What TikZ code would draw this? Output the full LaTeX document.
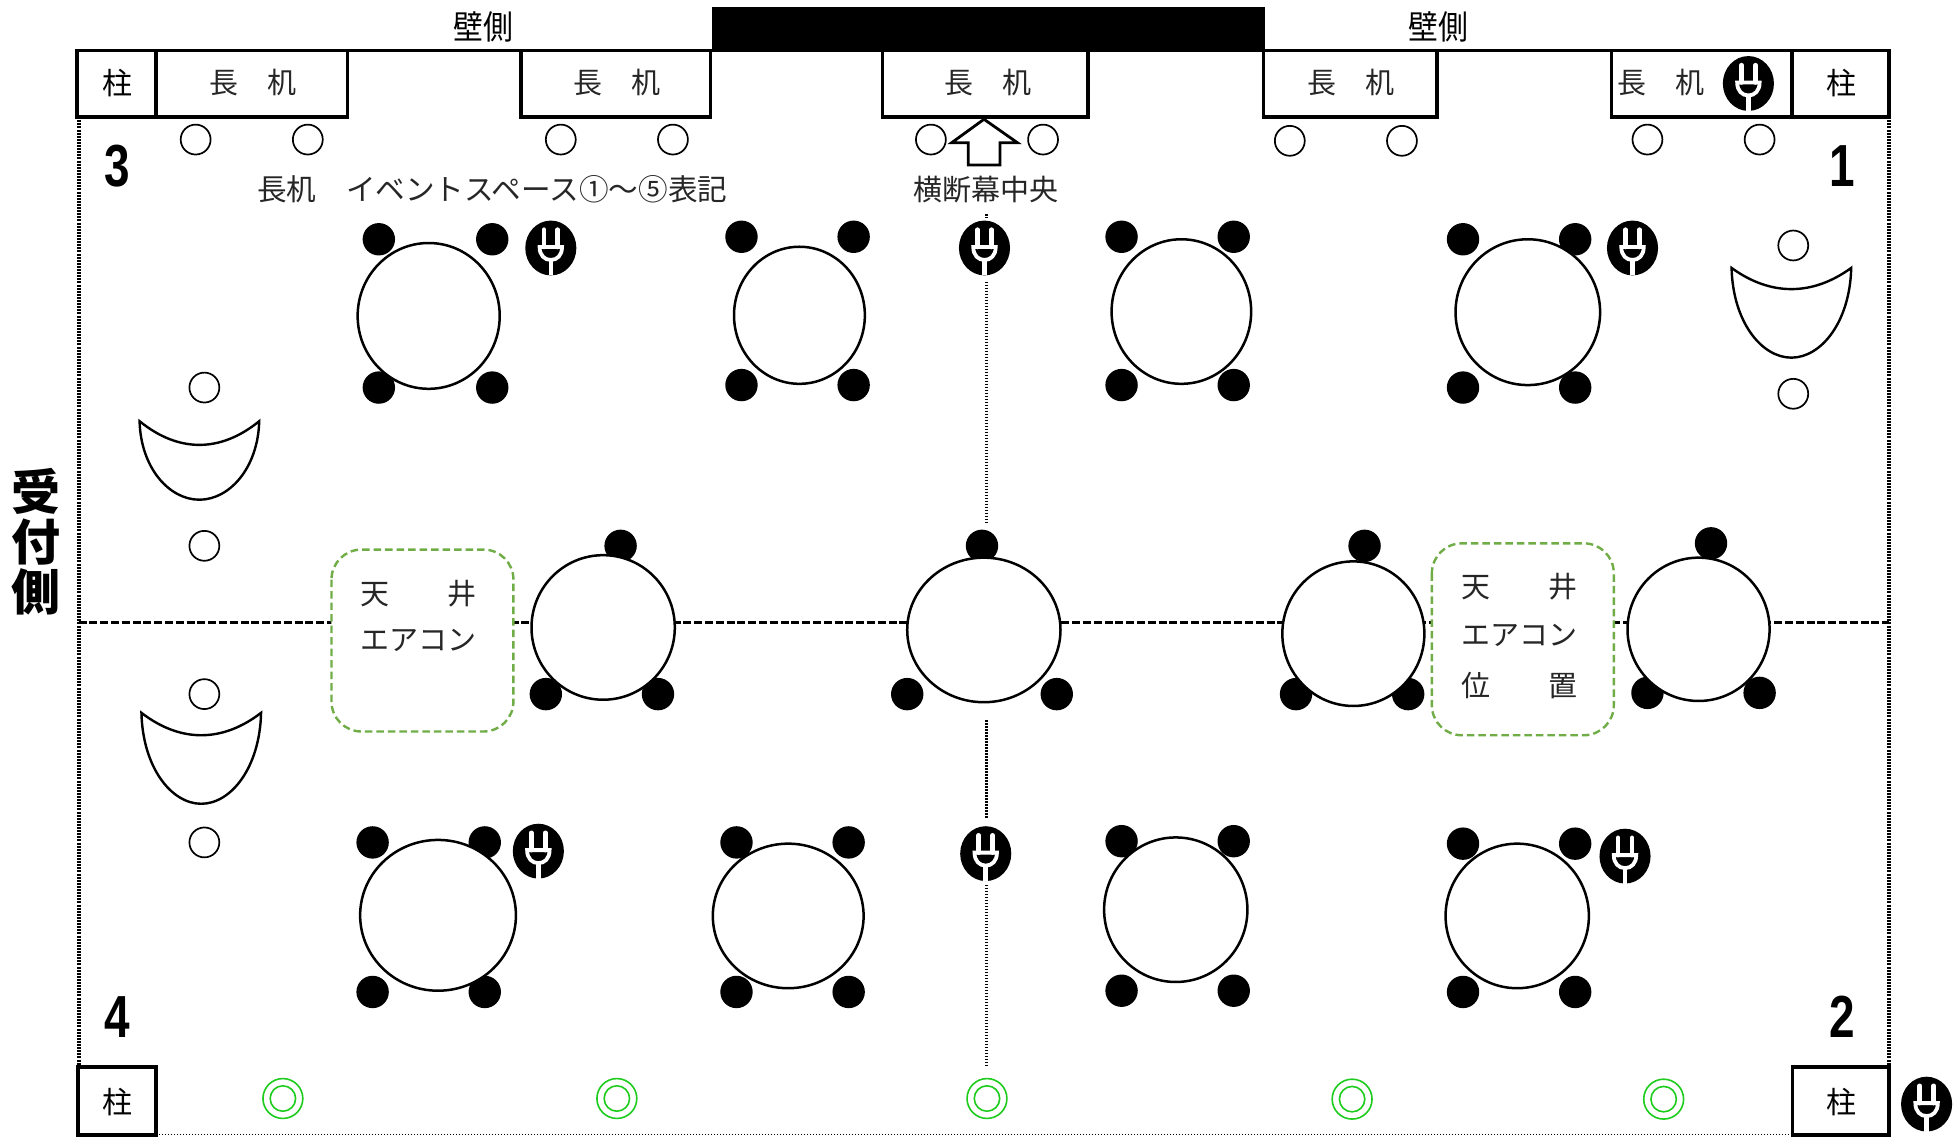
\documentclass[tikz,border=0pt]{standalone}
\usepackage{fontspec}
\usepackage{graphicx}
\setmainfont{Noto Sans CJK JP}
\newfontfamily\numfont{Liberation Sans}
\newcommand{\OpenSeat}[2]{\draw[openseat] (#1,#2) circle[radius=12];}
\newcommand{\RoundTable}[4]{\draw[tabletop] (#1,#2) ellipse[x radius=#3, y radius=#4];}
\newcommand{\SeatDots}[1]{\foreach \sx/\sy in {#1}{\fill (\sx,\sy) circle[radius=13];}}
\newcommand{\CupShape}[5]{%
  \draw[cupline] ({#1-#3},#2) .. controls ({#1-0.35*#3},{#2+1.333*(#4-#2)}) and ({#1+0.35*#3},{#2+1.333*(#4-#2)}) .. ({#1+#3},#2)
    .. controls ({#1+#3-1},{#2+0.6*(#5-#2)}) and ({#1+0.5*#3},#5) .. (#1,#5)
    .. controls ({#1-0.5*#3},#5) and ({#1-#3+1},{#2+0.6*(#5-#2)}) .. cycle;}
\newcommand{\PlugMark}[2]{%
  \begin{scope}[shift={(#1,#2)}]
    \fill (0,0) ellipse[x radius=20.5, y radius=22];
    \draw[plugwhite, line cap=round] (-5.6,-14.7) -- (-5.6,-0.8);
    \draw[plugwhite, line cap=round] (5.6,-14.7) -- (5.6,-0.8);
    \draw[plugwhite, line width=3.8pt] (-9,-0.8) -- (9,-0.8)
      .. controls (9,6) and (5,9.6) .. (0,9.6)
      .. controls (-5,9.6) and (-9,6) .. cycle;
    \draw[plugwhite] (0,9.6) -- (0,22);
  \end{scope}}
\newcommand{\DoubleRing}[2]{%
  \draw[greenring] (#1,#2) circle[radius=16];
  \draw[greenring] (#1,#2) circle[radius=10.2];}
\definecolor{acgreen}{HTML}{70AD47}
\definecolor{ringgreen}{HTML}{1ECC1E}
\tikzset{
  wall/.style={line width=3.6pt, line join=miter},
  openseat/.style={line width=1.7pt, fill=white},
  tabletop/.style={line width=2.5pt, fill=white},
  cupline/.style={line width=2.4pt, fill=white},
  plugwhite/.style={draw=white, line width=4.6pt},
  greenring/.style={draw=ringgreen, line width=1.6pt},
  acbox/.style={draw=acgreen, line width=2.4pt, dash pattern=on 7.5pt off 4pt, fill=white, rounded corners=30pt},
  walldot/.style={line width=4pt, dash pattern=on 2pt off 1.1pt},
  middot/.style={line width=3pt, dash pattern=on 1.6pt off 1.4pt},
  middash/.style={line width=3.8pt, dash pattern=on 8pt off 2.8pt},
  thindot/.style={line width=1pt, dash pattern=on 1.3pt off 1.7pt},
  lab/.style={inner sep=0pt, font=\fontsize{29pt}{35pt}\selectfont, text=black!85},
  pillar/.style={inner sep=0pt, font=\fontsize{30pt}{36pt}\selectfont},
  digit/.style={inner sep=0pt, font=\numfont\bfseries\fontsize{54pt}{60pt}\selectfont},
}
\begin{document}
\begin{tikzpicture}[x=1.24617pt, y=-1.24617pt]
\useasboundingbox (0,0) rectangle (1568,911.6);
\fill[white] (0,0) rectangle (1568,911.6);
% walls and centre lines
\draw[walldot] (63,94) -- (63,856);
\draw[walldot] (1516,94) -- (1516,856);
\draw[thindot] (125,910.6) -- (1438,910.6);
\draw[middash] (63,499.5) -- (1516,499.5);
\draw[middot] (791.5,172) -- (791.5,175);
\draw[middot] (791.5,226) -- (791.5,420);
\draw[middot] (791.5,578) -- (791.5,657);
\draw[middot] (791.5,710) -- (791.5,855);
% top wall
\fill (571,6) rectangle (1015,41);
\draw[wall] (62,40.5) -- (1516,40.5);
\draw[wall] (62,40.5) rectangle (125,94);
\draw[wall] (125,40.5) rectangle (279,94);
\draw[wall] (418,40.5) rectangle (570,94);
\draw[wall] (708,40.5) rectangle (873,94);
\draw[wall] (1014,40.5) rectangle (1153,94);
\draw[wall] (1293,40.5) rectangle (1438,94);
\draw[wall] (1438,40.5) rectangle (1516,94);
\draw[wall] (62.5,856) rectangle (125,911);
\draw[wall] (1438.5,856) rectangle (1516,911);
% open seats
\foreach \ox/\oy in {157/112,247/112,450/112,540/112,747/112,837/112,1035/113,1125/113,1322/112,1412/112,1439/197,1439/316,164/311,164/438,164/557,164/676}{\OpenSeat{\ox}{\oy}}
% cups
\CupShape{160}{338}{48}{357}{401}
\CupShape{161.5}{572}{48}{590}{645}
\CupShape{1437.5}{215}{48}{232}{287}
% seats then tables
\SeatDots{304/192,395/192,304/311,395/311}\RoundTable{344}{253.5}{57}{58.5}
\SeatDots{595/190,685/190,595/309,685/309}\RoundTable{641.5}{253}{52.5}{55}
\SeatDots{900/190,990/190,900/309,990/309}\RoundTable{948}{250}{56}{58}
\SeatDots{1174/192,1264/192,1174/311,1264/311}\RoundTable{1226}{250.5}{58}{58.5}
\SeatDots{498/438,438/557,528/557}\RoundTable{484}{503.5}{57.5}{58}
\SeatDots{788/438,728/557,848/557}\RoundTable{789.5}{505.5}{61.5}{58}
\SeatDots{1095/438,1040/557,1130/557}\RoundTable{1086}{508.5}{57}{58}
\SeatDots{1373/436,1322/556,1412/556}\RoundTable{1363}{505}{57}{57.5}
\SeatDots{299/676,389/676,299/796,389/796}\RoundTable{351.5}{734.5}{62.5}{60.5}
\SeatDots{591/676,681/676,591/796,681/796}\RoundTable{632.5}{735}{60.5}{58}
\SeatDots{900/675,990/675,900/795,990/795}\RoundTable{943.5}{730}{57.5}{58}
\SeatDots{1174/677,1264/677,1174/796,1264/796}\RoundTable{1217.5}{735}{57.5}{58}
% air-conditioner boxes
\draw[acbox] (266,441) rectangle (412,587);
\draw[acbox] (1149,436) rectangle (1295,590);
% arrow
\draw[line width=2.8pt, fill=white, line join=miter] (789.6,95.7) -- (816.4,114.5) -- (802.5,114.5) -- (802.5,132.4) -- (777,132.4) -- (777,114.5) -- (763.7,114.5) -- cycle;
% plugs
\foreach \px/\py in {442/199,790/199,1310/199,432/683,791/685,1304/687,1403/67,1546/886}{\PlugMark{\px}{\py}}
% rings
\foreach \rx/\ry in {227/881.5,495/881.5,792/881.5,1085/882,1335/882}{\DoubleRing{\rx}{\ry}}
% text
\node[lab, text=black] (wallL) at (388,22) {\scalebox{1.03}[1.15]{壁側}};
\node[lab, text=black] (wallR) at (1154,22) {\scalebox{1.03}[1.15]{壁側}};
\node[pillar] (pilA) at (94,67) {柱};
\node[pillar] (pilB) at (1477.5,67) {柱};
\node[pillar] (pilC) at (94,884) {柱};
\node[pillar] (pilD) at (1477.5,884) {柱};
\node[lab] (deskA) at (203,66) {長　机};
\node[lab] (deskB) at (495,66) {長　机};
\node[lab] (deskC) at (792.5,66) {長　机};
\node[lab] (deskD) at (1084,66) {長　机};
\node[lab] (deskE) at (1333,66) {長　机};
\node[lab, font=\fontsize{29.6pt}{35pt}\selectfont] (note) at (395,152) {長机　イベントスペース①〜⑤表記};
\node[lab] (banner) at (791.5,152) {横断幕中央};
\node[lab] (acAa) at (336,476) {天　　井};
\node[lab] (acAb) at (336,514) {エアコン};
\node[lab] (acBa) at (1219,471) {天　　井};
\node[lab] (acBb) at (1219,510) {エアコン};
\node[lab] (acBc) at (1219,550) {位　　置};
\node[digit] (numC) at (94,133.5) {\scalebox{0.85}[1.1]{3}};
\node[digit] (numA) at (1478,133.5) {\scalebox{0.85}[1.1]{1}};
\node[digit] (numD) at (94,816) {\scalebox{0.85}[1.1]{4}};
\node[digit] (numB) at (1478,816) {\scalebox{0.85}[1.1]{2}};
\node[inner sep=0pt, align=center, font=\bfseries\fontsize{49pt}{50pt}\selectfont] (side) at (29,434.5) {受\\付\\側};
\end{tikzpicture}
\end{document}
